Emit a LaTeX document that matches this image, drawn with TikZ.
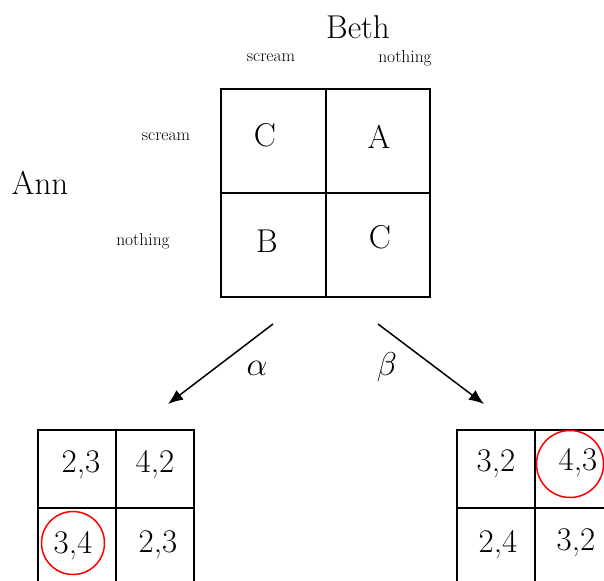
\RequirePackage{fix-cm}
\documentclass[tikz,border=0pt]{standalone}
\usepackage{fontspec}
\usetikzlibrary{arrows.meta}
\tikzset{
  big/.style={font=\fontsize{33}{40}\selectfont, inner sep=0pt},
  small/.style={font=\fontsize{17.5}{21}\selectfont, inner sep=0pt},
  gridline/.style={line width=1.6pt},
  arr/.style={line width=1.5pt, -{Latex[length=15pt,width=12pt]}},
  mark circle/.style={draw=red, line width=1.5pt, circle, inner sep=0pt}
}
\begin{document}
\begin{tikzpicture}[x=1pt,y=-1pt]
\useasboundingbox (0,0) rectangle (604,580);
\clip (0,0) rectangle (604,580);
% top grid
\draw[gridline] (221,89) rectangle (430,297);
\draw[gridline] (326,89) -- (326,297);
\draw[gridline] (221,193) -- (430,193);
\node[big] (beth) at (358,27) {Beth};
\node[big] (ann) at (40,183) {Ann};
\node[small] (bs) at (271,58) {scream};
\node[small] (bn) at (405,58) {nothing};
\node[small] (as) at (166,137) {scream};
\node[small] (an) at (143,241) {nothing};
\node[big] (c11) at (265,135) {C};
\node[big] (c12) at (379,137) {A};
\node[big] (c21) at (267,241) {B};
\node[big] (c22) at (380,237) {C};
% arrows
\coordinate (as1) at (273,324);
\coordinate (ae1) at (168,404);
\coordinate (bs1) at (378,324);
\coordinate (be1) at (484,404);
\draw[arr] (as1) -- (ae1);
\draw[arr] (bs1) -- (be1);
\node[big] (alpha) at (257,368) {$\alpha$};
\node[big] (beta) at (387,367) {$\beta$};
% bottom left grid
\draw[gridline] (38,430) rectangle (194,590);
\draw[gridline] (116,430) -- (116,590);
\draw[gridline] (38,508) -- (194,508);
\node[big] (l11) at (81,465) {2,3};
\node[big] (l12) at (155,465) {4,2};
\node[big] (l21) at (73,546) {3,4};
\node[big] (l22) at (158,545) {2,3};
\node[mark circle, minimum size=63pt] (lc) at (73,543) {};
% bottom right grid
\draw[gridline] (457,430) rectangle (615,590);
\draw[gridline] (535,430) -- (535,590);
\draw[gridline] (457,508) -- (615,508);
\node[big] (r11) at (496,464) {3,2};
\node[big] (r12) at (578,463) {4,3};
\node[big] (r21) at (498,545) {2,4};
\node[big] (r22) at (576,543) {3,2};
\node[mark circle, minimum size=67pt] (rc) at (570,464) {};
\end{tikzpicture}
\end{document}
